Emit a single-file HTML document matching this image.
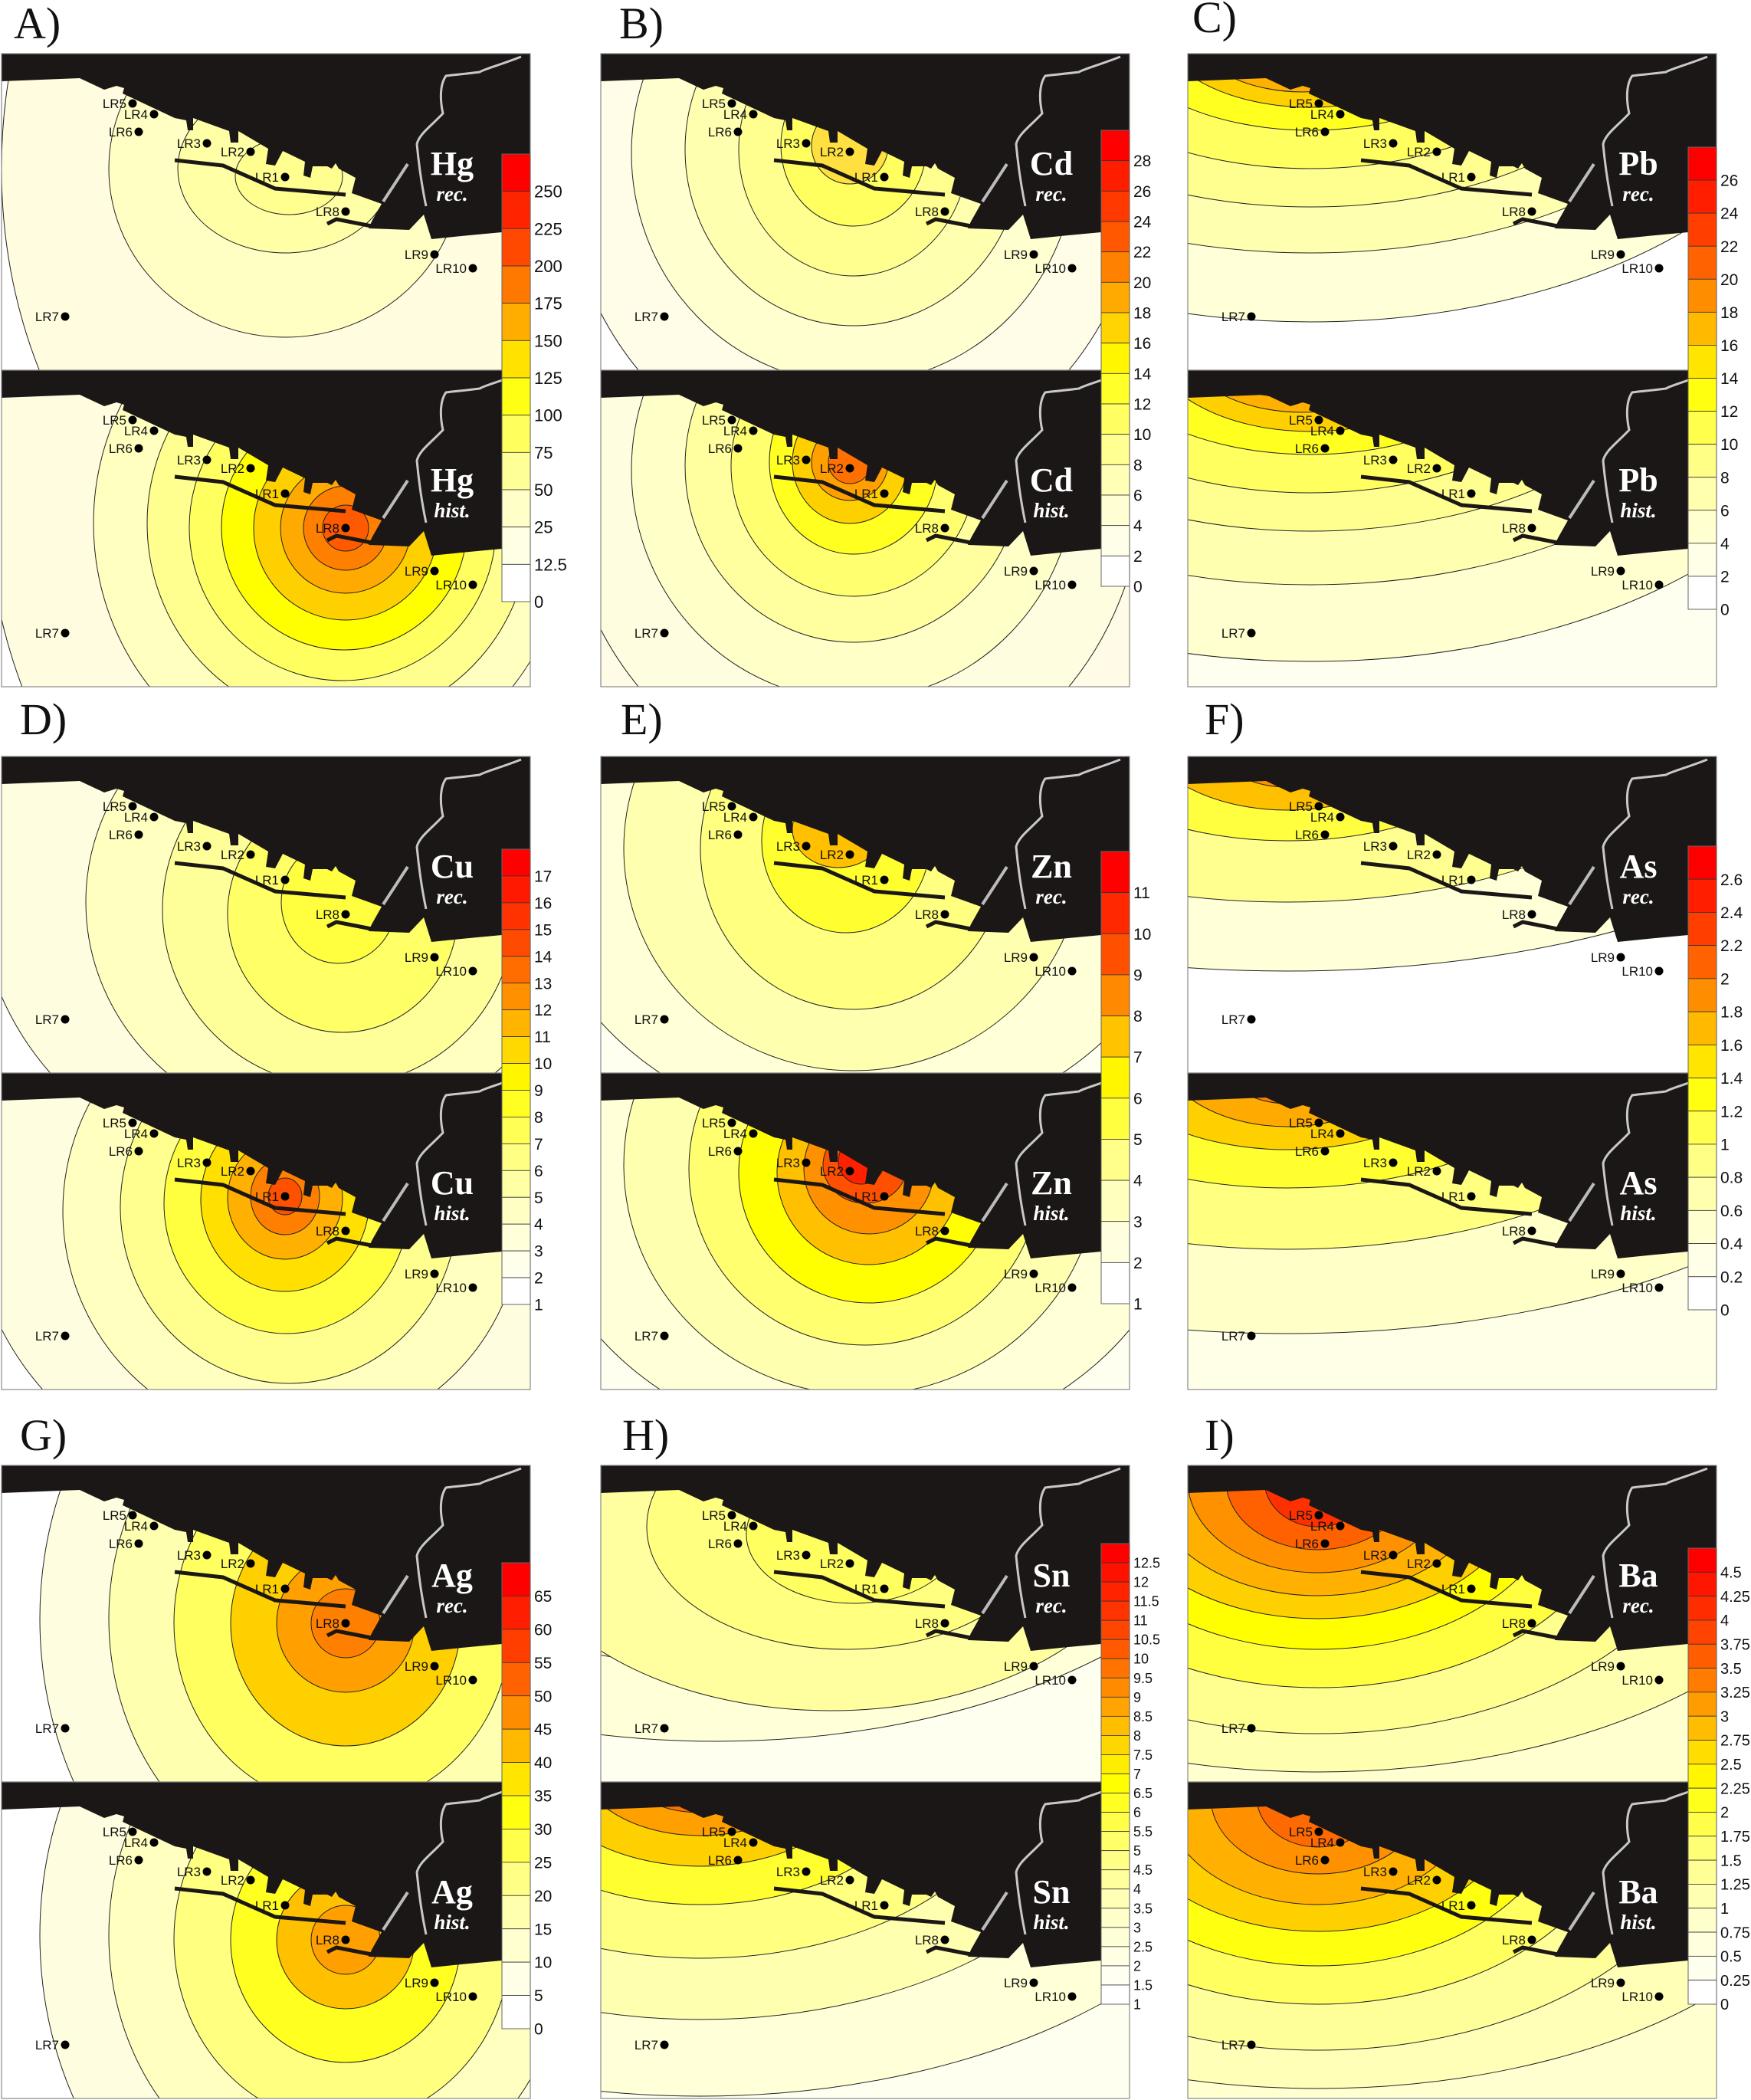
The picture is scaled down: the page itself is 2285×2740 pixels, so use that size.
<!DOCTYPE html>
<html><head><meta charset="utf-8">
<style>
html,body{margin:0;padding:0;background:#fff;width:2285px;height:2740px;overflow:hidden;}
svg{display:block;position:absolute;left:0;top:0;}
</style></head>
<body>
<svg id="s" xmlns="http://www.w3.org/2000/svg" width="2285" height="2740" viewBox="0 0 2285 2740">
<rect width="2285" height="2740" fill="#fff"/>
</svg>
<script>
const S=document.getElementById('s');
let out='';
const W=690,H=413;
const land="M0,0 L692,0 L692,228 L653,233 L600,238 L561,242 L551,210 L532,230 L479,228 L483,219 L496,196 L457,182 L462,162 L440,150 L436,143 L431,150 L425,147 L406,147 L403,162 L394,159 L396,141 L367,127 L357,146 L345,144 L348,124 L309,101 L309,116 L299,116 L297,101 L250,84 L250,100 L243,100 L241,87 L226,84 L158,52 L160,45 L150,42 L134,47 L102,32 L0,36 Z";
const stations=[["LR5",171,65],["LR4",199,79],["LR6",179,102],["LR3",268,117],["LR2",325,128],["LR1",370,161],["LR8",449,206],["LR9",565,262],["LR10",615,280],["LR7",83,343]];
let cid=0;
function map(x0,y0,bg,ells,el,sub){
  cid++;
  let g=`<g transform="translate(${x0},${y0})"><clipPath id="c${cid}"><rect x="0" y="0" width="${W}" height="${H}"/></clipPath><g clip-path="url(#c${cid})">`;
  g+=`<rect width="${W}" height="${H}" fill="${bg}"/>`;
  for(const e of ells){g+=`<ellipse cx="${e[0]}" cy="${e[1]}" rx="${e[2]}" ry="${e[3]}" fill="${e[4]}" stroke="#222" stroke-width="1"/>`;}
  g+=`<path d="${land}" fill="#1c1717"/>`;
  g+=`<path d="M678,4 C650,15 630,20 624,24 C600,27 585,28 580,29 C572,40 572,60 576,78 C560,95 545,105 542,118 C545,150 550,180 554,199" fill="none" stroke="#c8c8c8" stroke-width="3"/>`;
  g+=`<path d="M498,193 L530,144" stroke="#bbb" stroke-width="4"/>`;
  g+=`<path d="M226,139 L289,146 L357,176 L449,184" fill="none" stroke="#1c1717" stroke-width="5"/>`;
  g+=`<path d="M425,222 L437,216 L483,225" fill="none" stroke="#1c1717" stroke-width="5"/>`;
  for(const s of stations){g+=`<circle cx="${s[1]}" cy="${s[2]}" r="5.5" fill="#000"/><text x="${s[1]-8}" y="${s[2]+6}" text-anchor="end" font-family="Liberation Sans, sans-serif" font-size="17" fill="#111">${s[0]}</text>`;}
  g+=`<text x="588" y="158" text-anchor="middle" font-family="Liberation Serif, serif" font-weight="bold" font-size="44" fill="#fff">${el}</text>`;
  g+=`<text x="588" y="192" text-anchor="middle" font-family="Liberation Serif, serif" font-weight="bold" font-style="italic" font-size="27" fill="#fff">${sub}</text>`;
  g+=`</g><rect x="0" y="0" width="${W}" height="${H}" fill="none" stroke="#888" stroke-width="1.2"/></g>`;
  out+=g;
}
function hex(c){return [parseInt(c.slice(1,3),16),parseInt(c.slice(3,5),16),parseInt(c.slice(5,7),16)];}
const stops=[[0,"#ff0000"],[0.2,"#ff5000"],[0.33,"#ff9a00"],[0.45,"#ffe000"],[0.52,"#ffff00"],[0.68,"#ffff80"],[0.82,"#ffffc8"],[1,"#ffffff"]];
function col(t){for(let i=0;i<stops.length-1;i++){if(t<=stops[i+1][0]){const a=hex(stops[i][1]),b=hex(stops[i+1][1]);const f=(t-stops[i][0])/(stops[i+1][0]-stops[i][0]);return `rgb(${a.map((v,k)=>Math.round(v+(b[k]-v)*f)).join(',')})`;}}return "#fff";}
function cbar(x,y1,y2,labels,fs){
  const n=labels.length, h=(y2-y1)/n;
  let g='';
  for(let i=0;i<n;i++){g+=`<rect x="${x}" y="${y1+i*h}" width="37" height="${h}" fill="${col(n>1?i/(n-1):0)}" stroke="#333" stroke-width="0.8"/>`;}
  g+=`<rect x="${x}" y="${y1}" width="37" height="${y2-y1}" fill="none" stroke="#666" stroke-width="1"/>`;
  for(let i=0;i<n;i++){const yy=y1+(i+1)*h;g+=`<text x="${x+42}" y="${yy+fs*0.36}" font-family="Liberation Sans, sans-serif" font-size="${fs}" fill="#111">${labels[i]}</text>`;}
  out+=g;
}
function plabel(x,y,t){out+=`<text x="${x}" y="${y}" font-family="Liberation Serif, serif" font-size="58" fill="#111">${t}</text>`;}
const cols=[2,784,1550], rows=[70,987,1912];
function seq(a,b,st){const r=[];for(let v=a;v>=b-1e-9;v-=st)r.push(+v.toFixed(2));return r;}
map(cols[0],rows[0],"#ffffff",[[390,150,390,540,"#fffce0"],[370,150,230,220,"#ffffc4"],[370,150,140,110,"#ffffa6"],[375,160,70,50,"#ffff90"]],"Hg","rec.");
map(cols[0],rows[0]+413,"#ffffff",[[380,150,400,560,"#fffce0"],[430,200,310,330,"#ffffc0"],[440,200,250,260,"#ffff90"],[445,205,200,200,"#ffff60"],[447,205,160,160,"#ffff00"],[449,206,120,120,"#ffd000"],[449,206,85,85,"#ffaa00"],[449,206,55,55,"#ff8000"],[449,206,30,30,"#ff5a00"]],"Hg","hist.");
map(cols[1],rows[0],"#ffffff",[[330,130,380,420,"#fffde8"],[330,130,290,300,"#ffffd0"],[330,125,220,230,"#ffffb0"],[330,125,150,165,"#ffff90"],[330,120,95,105,"#ffff60"],[325,120,50,50,"#ffe040"]],"Cd","rec.");
map(cols[1],rows[0]+413,"#fffbe6",[[330,130,380,420,"#fffde0"],[330,130,290,300,"#ffffc8"],[330,125,220,230,"#ffffa0"],[330,125,160,170,"#ffff70"],[330,120,110,120,"#ffff20"],[325,120,75,80,"#ffd000"],[325,120,50,50,"#ffa000"],[325,120,28,28,"#ff7000"]],"Cd","hist.");
map(cols[2],rows[0],"#ffffff",[[160,-40,680,390,"#ffffd8"],[160,-40,560,300,"#ffffb0"],[160,-40,450,240,"#ffff90"],[160,-40,350,190,"#ffff60"],[160,-40,260,140,"#ffff20"],[160,-40,200,110,"#ffd000"],[150,-40,150,90,"#ffb000"],[130,-40,110,70,"#ff9000"]],"Pb","rec.");
map(cols[2],rows[0]+413,"#fffff0",[[160,-40,720,420,"#ffffd0"],[160,-40,580,320,"#ffffb0"],[160,-40,470,250,"#ffff90"],[160,-40,370,200,"#ffff60"],[160,-40,280,150,"#ffff20"],[160,-40,210,120,"#ffd000"],[150,-40,160,95,"#ffb000"],[130,-40,120,75,"#ff9000"],[130,-40,80,60,"#ff6000"]],"Pb","hist.");
map(cols[0],rows[1],"#ffffff",[[400,170,430,390,"#fffde0"],[430,190,320,300,"#ffffc0"],[440,200,230,230,"#ffff99"],[445,205,150,155,"#ffff66"],[440,190,75,80,"#ffff40"]],"Cu","rec.");
map(cols[0],rows[1]+413,"#ffffff",[[390,170,430,390,"#fffde0"],[380,180,300,300,"#ffffc0"],[375,175,220,230,"#ffff90"],[372,170,160,170,"#ffff40"],[370,165,110,120,"#ffe000"],[370,163,75,80,"#ffb000"],[370,161,45,50,"#ff8000"],[370,161,22,24,"#ff5000"]],"Cu","hist.");
map(cols[1],rows[1],"#fffff0",[[340,120,430,370,"#ffffd8"],[330,120,300,290,"#ffffb0"],[330,120,200,210,"#ffff80"],[320,110,110,120,"#ffff30"],[310,95,60,50,"#ffc000"]],"Zn","rec.");
map(cols[1],rows[1]+413,"#fffff0",[[340,120,430,370,"#ffffd8"],[340,120,310,300,"#ffffb0"],[345,125,230,230,"#ffff70"],[350,130,170,170,"#ffff00"],[350,130,120,120,"#ffc000"],[350,125,85,85,"#ff9000"],[345,120,55,50,"#ff5000"],[340,115,30,30,"#ff2000"]],"Zn","hist.");
map(cols[2],rows[1],"#ffffff",[[130,-40,780,320,"#ffffd8"],[130,-40,520,230,"#ffff90"],[130,-40,300,150,"#ffff40"],[130,-40,190,110,"#ffc000"],[130,-40,110,80,"#ff9000"]],"As","rec.");
map(cols[2],rows[1]+413,"#ffffe8",[[130,-40,820,380,"#ffffc8"],[130,-40,560,270,"#ffff80"],[130,-40,380,190,"#ffff30"],[130,-40,250,140,"#ffd000"],[130,-40,170,110,"#ffaa00"],[130,-40,100,80,"#ff8000"]],"As","hist.");
map(cols[0],rows[2],"#ffffff",[[440,200,390,460,"#fffde0"],[440,200,300,340,"#ffffb0"],[445,205,220,240,"#ffff60"],[449,206,150,160,"#ffd000"],[449,206,90,90,"#ffa000"],[449,206,45,45,"#ff8000"]],"Ag","rec.");
map(cols[0],rows[2]+413,"#ffffff",[[440,200,390,460,"#fffde0"],[440,200,300,340,"#ffffc0"],[445,205,220,240,"#ffff80"],[449,206,150,160,"#ffff20"],[449,206,90,90,"#ffc000"],[449,206,45,45,"#ffa000"]],"Ag","hist.");
map(cols[1],rows[2],"#fffff0",[[150,-80,760,440,"#ffffd8"],[150,-80,560,340,"#ffffc0"],[300,60,420,260,"#ffffa0"],[320,80,260,160,"#ffff80"],[330,90,140,90,"#ffff60"]],"Sn","rec.");
map(cols[1],rows[2]+413,"#fffff0",[[130,-30,760,440,"#ffffd8"],[130,-30,560,340,"#ffffb0"],[130,-30,420,260,"#ffff80"],[130,-30,300,190,"#ffff30"],[130,-30,220,140,"#ffd000"],[130,-30,160,100,"#ffa000"],[130,-30,110,70,"#ff7000"],[140,-20,60,50,"#ff3000"]],"Sn","hist.");
map(cols[2],rows[2],"#ffffd0",[[170,20,700,380,"#ffffb0"],[170,20,520,330,"#ffff90"],[170,20,400,270,"#ffff40"],[170,20,320,220,"#ffff00"],[170,20,270,180,"#ffd000"],[170,20,220,150,"#ffb000"],[170,20,170,120,"#ff9000"],[170,20,120,90,"#ff6000"],[170,20,70,60,"#ff3000"]],"Ba","rec.");
map(cols[2],rows[2]+413,"#ffffd0",[[170,20,700,380,"#ffffb8"],[170,20,520,330,"#ffff99"],[170,20,400,270,"#ffff60"],[170,20,320,220,"#ffff10"],[170,20,260,175,"#ffd000"],[170,20,200,140,"#ffb000"],[170,20,140,100,"#ff9000"],[170,20,80,65,"#ff6a00"]],"Ba","hist.");
cbar(655,201,785,[250,225,200,175,150,125,100,75,50,25,12.5,0],22);
cbar(1437,170,765,seq(28,0,2),21);
cbar(2203,192,795,seq(26,0,2),21);
cbar(655,1108,1702,seq(17,1,1),21);
cbar(1437,1111,1701,seq(11,1,1),21);
cbar(2203,1104,1709,[2.6,2.4,2.2,2,1.8,1.6,1.4,1.2,1,0.8,0.6,0.4,0.2,0],21);
cbar(655,2039,2647,seq(65,0,5),21);
cbar(1437,2014,2615,seq(12.5,1,0.5),18);
cbar(2203,2020,2615,[4.5,4.25,4,3.75,3.5,3.25,3,2.75,2.5,2.25,2,1.75,1.5,1.25,1,0.75,0.5,0.25,0],20);
plabel(18,50,"A)");plabel(808,50,"B)");plabel(1556,42,"C)");
plabel(26,958,"D)");plabel(810,958,"E)");plabel(1572,958,"F)");
plabel(26,1892,"G)");plabel(812,1892,"H)");plabel(1572,1892,"I)");
S.insertAdjacentHTML('beforeend',out);
</script>
</body></html>
